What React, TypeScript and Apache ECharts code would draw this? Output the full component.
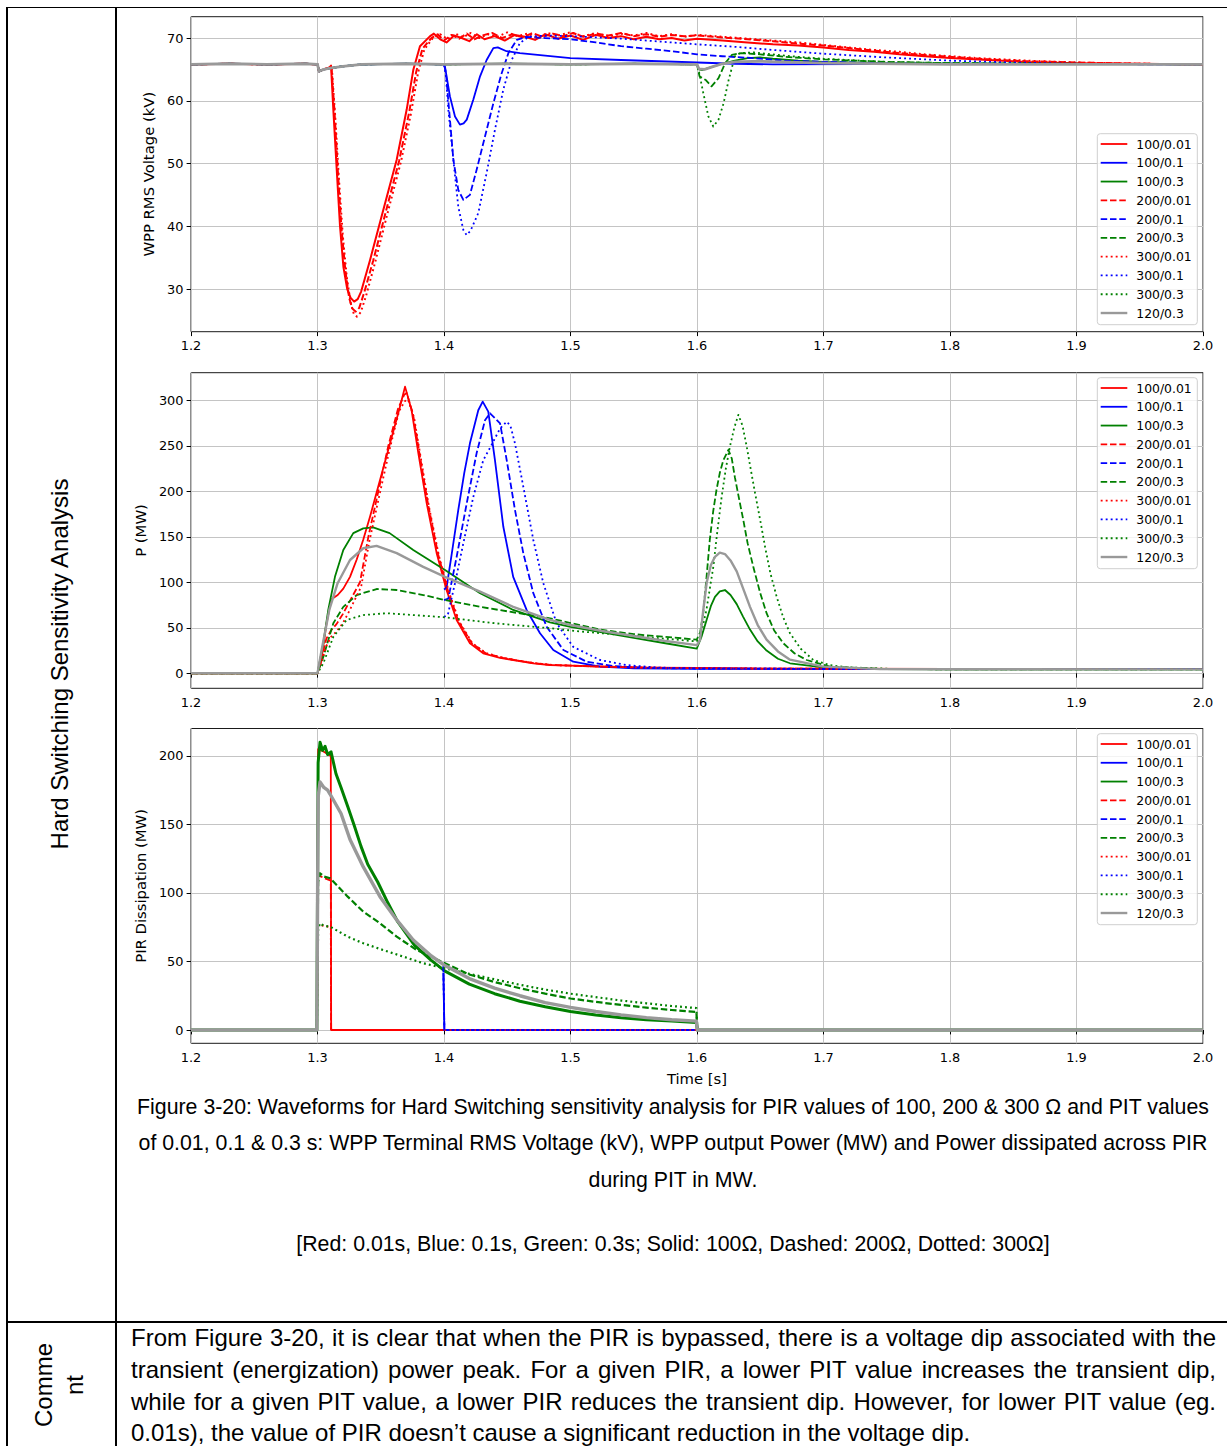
import React, { useEffect, useRef } from 'react';
import * as echarts from 'echarts';

type Pt = [number, number];

// ---------------------------------------------------------------------------
// Series names (PIR ohms / PIT seconds) in legend order
// ---------------------------------------------------------------------------
const SERIES_NAMES = ['100/0.01', '100/0.1', '100/0.3', '200/0.01', '200/0.1', '200/0.3', '300/0.01', '300/0.1', '300/0.3', '120/0.3'];

const TIME_TICKS = [1.2, 1.3, 1.4, 1.5, 1.6, 1.7, 1.8, 1.9, 2.0];
const VOLT_TICKS = [30, 40, 50, 60, 70];
const POWER_TICKS = [0, 50, 100, 150, 200, 250, 300];
const PIR_TICKS = [0, 50, 100, 150, 200];

// ---------------------------------------------------------------------------
// Panel 1: WPP terminal RMS voltage (kV)
// ---------------------------------------------------------------------------
const V_PRE: Pt[] = [[1.2, 65.8], [1.23, 65.9], [1.26, 65.8], [1.29, 65.9], [1.3, 65.8], [1.3012, 64.7], [1.305, 65.0]];
const V_SETTLE: Pt[] = [[1.31, 65.2], [1.32, 65.5], [1.335, 65.8], [1.37, 65.9], [1.4, 65.8]];
const V_HOLD_TO_16: Pt[] = [[1.45, 65.9], [1.5, 65.8], [1.55, 65.9], [1.6, 65.8]];

const V_100_001: Pt[] = [...V_PRE, [1.3095, 65.3], [1.3107, 65.6], [1.3125, 58.6], [1.3152, 49], [1.3178, 40], [1.3205, 33.5], [1.3235, 30.0], [1.3262, 28.6], [1.329, 28.0], [1.3318, 28.4], [1.3345, 29.6], [1.3415, 34.6], [1.352, 42.6], [1.3626, 50.6], [1.3705, 58.6], [1.3758, 65], [1.381, 68.7], [1.389, 70.3], [1.392, 70.7], [1.397, 69.8], [1.402, 69.3], [1.408, 70.4], [1.414, 70.0], [1.42, 69.5], [1.426, 70.6], [1.432, 69.8], [1.44, 70.3], [1.448, 69.6], [1.456, 70.5], [1.464, 70.2], [1.472, 69.7], [1.48, 70.6], [1.49, 69.9], [1.5, 70.4], [1.51, 69.7], [1.52, 70.5], [1.53, 70.0], [1.54, 70.3], [1.55, 69.8], [1.56, 70.2], [1.57, 69.8], [1.58, 70.0], [1.59, 69.6], [1.6, 69.9], [1.62, 69.6], [1.64, 69.3], [1.66, 69.0], [1.68, 68.8], [1.7, 68.5], [1.72, 68.1], [1.74, 67.8], [1.76, 67.4], [1.78, 67.1], [1.8, 66.8], [1.83, 66.5], [1.86, 66.2], [1.9, 66.0], [1.95, 65.9], [2.0, 65.8]];
const V_200_001: Pt[] = [...V_PRE, [1.3095, 65.3], [1.311, 65.6], [1.3135, 58], [1.316, 49], [1.319, 39.5], [1.322, 33], [1.325, 28.6], [1.3275, 26.9], [1.3302, 26.4], [1.333, 27.0], [1.337, 29.5], [1.344, 34.5], [1.354, 42.3], [1.3645, 50.4], [1.3725, 58.2], [1.378, 64.6], [1.383, 68.3], [1.39, 70.0], [1.395, 70.6], [1.4, 69.6], [1.406, 70.5], [1.412, 69.9], [1.418, 70.7], [1.424, 69.8], [1.43, 70.4], [1.438, 70.8], [1.446, 70.0], [1.454, 70.6], [1.462, 70.1], [1.47, 70.8], [1.478, 70.2], [1.486, 70.7], [1.494, 70.3], [1.502, 70.8], [1.51, 70.2], [1.52, 70.7], [1.53, 70.4], [1.54, 70.8], [1.55, 70.3], [1.56, 70.6], [1.57, 70.2], [1.58, 70.5], [1.59, 70.3], [1.6, 70.4], [1.62, 70.1], [1.64, 69.8], [1.66, 69.5], [1.68, 69.1], [1.7, 68.8], [1.72, 68.4], [1.74, 68.0], [1.76, 67.6], [1.78, 67.3], [1.8, 67.0], [1.83, 66.6], [1.86, 66.3], [1.9, 66.1], [1.95, 65.9], [2.0, 65.8]];
const V_300_001: Pt[] = [...V_PRE, [1.3095, 65.3], [1.3112, 65.6], [1.314, 57.5], [1.3168, 48], [1.32, 38.5], [1.3232, 31.8], [1.3262, 27.8], [1.3288, 26.0], [1.3312, 25.6], [1.3342, 26.3], [1.3385, 29], [1.3455, 34.2], [1.3555, 42.2], [1.366, 50.3], [1.374, 58.1], [1.3795, 64.5], [1.3845, 68.2], [1.3915, 70.1], [1.397, 70.6], [1.403, 69.8], [1.409, 70.7], [1.415, 70.1], [1.421, 70.8], [1.428, 70.0], [1.435, 70.6], [1.442, 70.2], [1.45, 70.9], [1.458, 70.3], [1.466, 70.7], [1.474, 70.1], [1.482, 70.8], [1.49, 70.4], [1.5, 70.9], [1.51, 70.3], [1.52, 70.8], [1.53, 70.2], [1.54, 70.7], [1.55, 70.4], [1.56, 70.8], [1.57, 70.3], [1.58, 70.6], [1.59, 70.2], [1.6, 70.5], [1.62, 70.2], [1.64, 69.9], [1.66, 69.6], [1.68, 69.3], [1.7, 68.9], [1.72, 68.5], [1.74, 68.1], [1.76, 67.8], [1.78, 67.4], [1.8, 67.1], [1.83, 66.7], [1.86, 66.4], [1.9, 66.1], [1.95, 65.9], [2.0, 65.8]];

const V_100_01: Pt[] = [...V_PRE, ...V_SETTLE, [1.4008, 65.4], [1.4047, 60.7], [1.4087, 57.5], [1.4126, 56.2], [1.4155, 56.4], [1.418, 57], [1.4232, 60.2], [1.4285, 63.9], [1.4337, 66.5], [1.439, 68.4], [1.4425, 68.5], [1.4494, 67.9], [1.46, 67.6], [1.48, 67.2], [1.5, 66.8], [1.54, 66.5], [1.57, 66.3], [1.6, 66.1], [1.63, 65.9], [1.66, 65.8], [1.8, 65.9], [2.0, 65.8]];
const V_200_01: Pt[] = [...V_PRE, ...V_SETTLE, [1.4015, 64.5], [1.4047, 57], [1.4074, 50.6], [1.4113, 45.8], [1.4153, 44.2], [1.4205, 45], [1.4258, 49], [1.4324, 54.3], [1.439, 59.6], [1.4456, 64.4], [1.4509, 67.6], [1.4575, 69.7], [1.465, 70.2], [1.48, 70.0], [1.5, 69.8], [1.52, 69.3], [1.54, 68.7], [1.56, 68.3], [1.58, 67.9], [1.6, 67.4], [1.62, 67.1], [1.645, 66.8], [1.67, 66.4], [1.7, 66.2], [1.75, 66.0], [1.8, 65.9], [2.0, 65.8]];
const V_300_01: Pt[] = [...V_PRE, ...V_SETTLE, [1.4015, 64.0], [1.4034, 58.6], [1.4074, 50.6], [1.4113, 43.1], [1.4153, 39.4], [1.4179, 38.6], [1.421, 39.3], [1.4271, 42.1], [1.4337, 48.5], [1.4403, 55.4], [1.4469, 61.8], [1.4535, 66.5], [1.46, 69.2], [1.467, 70.2], [1.48, 70.4], [1.5, 70.3], [1.52, 70.1], [1.54, 69.9], [1.56, 69.6], [1.58, 69.3], [1.6, 69.0], [1.63, 68.6], [1.66, 68.1], [1.7, 67.5], [1.75, 66.9], [1.8, 66.4], [1.85, 66.1], [1.9, 65.9], [2.0, 65.8]];

const V_100_03: Pt[] = [...V_PRE, ...V_SETTLE, ...V_HOLD_TO_16, [1.6015, 65.0], [1.604, 64.9], [1.61, 65.3], [1.62, 65.9], [1.63, 66.4], [1.64, 66.8], [1.65, 66.9], [1.66, 66.7], [1.68, 66.4], [1.7, 66.2], [1.75, 66.0], [1.8, 65.9], [2.0, 65.8]];
const V_200_03: Pt[] = [...V_PRE, ...V_SETTLE, ...V_HOLD_TO_16, [1.602, 63.9], [1.607, 63.3], [1.6115, 62.3], [1.617, 63.6], [1.6223, 66], [1.6275, 67.3], [1.635, 67.6], [1.65, 67.4], [1.67, 67.0], [1.7, 66.6], [1.75, 66.2], [1.8, 66.0], [2.0, 65.8]];
const V_300_03: Pt[] = [...V_PRE, ...V_SETTLE, ...V_HOLD_TO_16, [1.601, 65.2], [1.605, 61.2], [1.609, 57.5], [1.6129, 55.9], [1.617, 57], [1.621, 59.6], [1.625, 63.3], [1.63, 67.1], [1.634, 67.6], [1.645, 67.7], [1.66, 67.4], [1.68, 67.0], [1.7, 66.7], [1.75, 66.2], [1.8, 66.0], [2.0, 65.8]];
const V_120_03: Pt[] = [...V_PRE, ...V_SETTLE, ...V_HOLD_TO_16, [1.6015, 65.1], [1.606, 65.0], [1.612, 65.4], [1.62, 65.9], [1.63, 66.2], [1.65, 66.3], [1.7, 66.0], [1.8, 65.8], [2.0, 65.8]];

// ---------------------------------------------------------------------------
// Panel 2: WPP output active power P (MW)
// ---------------------------------------------------------------------------
const P_100_001: Pt[] = [[1.2, 0], [1.3, 0], [1.3028, 12], [1.3068, 52], [1.3107, 81], [1.316, 86], [1.3204, 93], [1.3257, 106], [1.331, 125], [1.3362, 147], [1.3415, 172], [1.347, 200], [1.3525, 228], [1.358, 256], [1.3635, 284], [1.3665, 300], [1.3692, 315], [1.3744, 289], [1.3797, 242], [1.3863, 187], [1.3942, 132], [1.402, 91.5], [1.41, 58.6], [1.4205, 33], [1.431, 22], [1.4443, 17], [1.4547, 14.6], [1.4706, 11], [1.4838, 9.1], [1.5, 8.5], [1.53, 7.2], [1.56, 6.3], [1.6, 5.8], [1.65, 5.2], [1.7, 5.0], [1.8, 4.8], [1.9, 4.7], [2.0, 4.6]];
const P_200_001: Pt[] = [[1.2, 0], [1.3, 0], [1.3035, 18], [1.307, 38], [1.3107, 47], [1.315, 54], [1.32, 65], [1.325, 78], [1.3336, 100], [1.3402, 150], [1.3481, 200], [1.356, 250], [1.3635, 290], [1.3685, 306], [1.3705, 308], [1.3755, 285], [1.3808, 240], [1.3875, 185], [1.3955, 130], [1.4033, 90], [1.4115, 57], [1.422, 33], [1.433, 22], [1.4465, 17], [1.457, 14.2], [1.473, 10.8], [1.486, 9], [1.5, 8.4], [1.53, 7.1], [1.56, 6.2], [1.6, 5.7], [1.65, 5.2], [1.7, 5.0], [1.8, 4.8], [1.9, 4.7], [2.0, 4.6]];
const P_300_001: Pt[] = [[1.2, 0], [1.3, 0], [1.3035, 14], [1.307, 30], [1.3107, 40], [1.315, 46], [1.32, 55], [1.325, 68], [1.3345, 95], [1.341, 145], [1.349, 196], [1.357, 246], [1.3645, 288], [1.369, 299], [1.3715, 301], [1.3765, 280], [1.3815, 238], [1.388, 184], [1.396, 129], [1.404, 89], [1.412, 57], [1.4225, 33], [1.4335, 22], [1.447, 17], [1.4575, 14.2], [1.4735, 10.8], [1.4865, 9], [1.5, 8.4], [1.53, 7.1], [1.56, 6.2], [1.6, 5.7], [1.65, 5.2], [1.7, 5.0], [1.8, 4.8], [1.9, 4.7], [2.0, 4.6]];

const P_100_01: Pt[] = [[1.4, 92], [1.402, 94], [1.406, 130], [1.4113, 179.5], [1.416, 220], [1.4205, 252.7], [1.4271, 289], [1.4306, 298.5], [1.435, 287.5], [1.4403, 234], [1.4469, 161], [1.4547, 106], [1.4653, 69.6], [1.4759, 44], [1.4864, 25.6], [1.5022, 12.7], [1.5233, 7.3], [1.55, 5.5], [1.6, 5.0], [1.7, 4.7], [1.8, 4.6], [2.0, 4.5]];
const P_200_01: Pt[] = [[1.4, 80.5], [1.4034, 82], [1.41, 128], [1.418, 187], [1.4258, 242], [1.4324, 278], [1.4364, 285.7], [1.4443, 274.7], [1.4496, 234], [1.4561, 179.5], [1.4627, 132], [1.4706, 88], [1.4812, 51], [1.4944, 25.6], [1.5128, 12.7], [1.5339, 8], [1.56, 5.8], [1.6, 5.2], [1.7, 4.8], [1.8, 4.6], [2.0, 4.5]];
const P_300_01: Pt[] = [[1.4, 62], [1.403, 64], [1.4087, 99], [1.4153, 143], [1.4232, 194], [1.431, 234], [1.4376, 251], [1.4443, 269], [1.4496, 276.5], [1.4525, 272], [1.4561, 252.7], [1.4627, 205], [1.4706, 146.5], [1.4785, 99], [1.489, 55], [1.5022, 29], [1.5233, 14.6], [1.5444, 9], [1.57, 6.2], [1.6, 5.4], [1.7, 4.8], [1.8, 4.6], [2.0, 4.5]];

const P_100_03: Pt[] = [[1.2, 0], [1.3, 0], [1.3046, 33], [1.3085, 69.6], [1.3138, 106], [1.3204, 135.5], [1.3283, 154], [1.3362, 159.3], [1.344, 160.4], [1.357, 154], [1.3757, 135.5], [1.4008, 113.5], [1.4285, 88], [1.4547, 69.6], [1.4838, 56], [1.5, 51], [1.525, 45], [1.55, 39], [1.575, 33], [1.5998, 27], [1.6035, 40], [1.6077, 59], [1.611, 74], [1.6142, 84], [1.618, 90], [1.6221, 91.5], [1.6265, 86], [1.6314, 76], [1.6365, 62], [1.6419, 48], [1.648, 35], [1.655, 25], [1.664, 16], [1.6735, 11], [1.6998, 6.6], [1.7447, 4.6], [1.8, 4.4], [2.0, 4.3]];
const P_200_03: Pt[] = [[1.2, 0], [1.3, 0], [1.3046, 18], [1.3125, 55], [1.3204, 73], [1.331, 86], [1.3467, 92.6], [1.3626, 91.5], [1.3836, 86], [1.4008, 80.5], [1.4285, 73], [1.4838, 60.4], [1.5233, 48], [1.55, 43], [1.575, 40], [1.5998, 37], [1.6025, 45], [1.6049, 66], [1.6075, 105], [1.6101, 146.5], [1.6128, 178], [1.6154, 201.4], [1.618, 220], [1.6208, 234], [1.6248, 245.5], [1.6275, 236], [1.63, 215], [1.6335, 190], [1.6366, 168.5], [1.64, 143], [1.6445, 117], [1.65, 88], [1.655, 66], [1.661, 47], [1.6682, 33], [1.677, 22], [1.6867, 14.6], [1.705, 7.3], [1.75, 4.6], [1.8, 4.4], [2.0, 4.3]];
const P_300_03: Pt[] = [[1.2, 0], [1.3, 0], [1.3046, 11], [1.3125, 40], [1.323, 58.6], [1.3362, 64], [1.3547, 66], [1.3757, 64], [1.4008, 61.5], [1.44, 55], [1.4838, 49.5], [1.5075, 46], [1.55, 41], [1.5998, 35], [1.603, 42], [1.6075, 70], [1.6129, 117], [1.616, 155], [1.6195, 194], [1.6228, 225], [1.626, 249], [1.6295, 270], [1.6327, 284], [1.636, 272], [1.6393, 249], [1.6425, 224], [1.6459, 198], [1.65, 168], [1.6538, 139], [1.658, 110], [1.663, 84], [1.668, 62], [1.6735, 44], [1.682, 27], [1.692, 14.6], [1.705, 9], [1.718, 6.6], [1.76, 4.6], [1.8, 4.4], [2.0, 4.3]];
const P_120_03: Pt[] = [[1.2, 0], [1.3, 0], [1.3028, 22], [1.3093, 69.6], [1.3159, 99], [1.3257, 124.5], [1.3362, 137.4], [1.3467, 140], [1.3626, 132], [1.3836, 117], [1.4008, 106], [1.4285, 89.8], [1.4547, 73], [1.4838, 58.6], [1.5, 53], [1.525, 46.5], [1.55, 41], [1.575, 35.5], [1.6, 31], [1.6024, 36.6], [1.605, 70], [1.6077, 100], [1.611, 119], [1.6142, 128], [1.618, 132.5], [1.6221, 131], [1.6265, 124], [1.6314, 112], [1.6365, 93], [1.6419, 73], [1.648, 53], [1.655, 37], [1.664, 24], [1.6735, 15], [1.6998, 7.3], [1.7447, 4.6], [1.8, 4.4], [2.0, 4.3]];

// ---------------------------------------------------------------------------
// Panel 3: power dissipated in the pre-insertion resistor (MW)
// ---------------------------------------------------------------------------
const R_100_001: Pt[] = [[1.2, 0], [1.2995, 0], [1.3005, 205], [1.305, 203], [1.3105, 200], [1.3108, 0], [2.0, 0]];
const R_200_001: Pt[] = [[1.2, 0], [1.2995, 0], [1.3005, 113], [1.305, 111], [1.3105, 109], [1.3108, 0], [2.0, 0]];
const R_300_001: Pt[] = [[1.2, 0], [1.2995, 0], [1.3005, 77], [1.305, 76], [1.3105, 75], [1.3108, 0], [2.0, 0]];

const R_100_01: Pt[] = [[1.3995, 42], [1.4003, 0], [2.0, 0]];
const R_200_01: Pt[] = [[1.3995, 47], [1.4003, 0], [2.0, 0]];
const R_300_01: Pt[] = [[1.3995, 45], [1.4003, 0], [2.0, 0]];

const R_100_03: Pt[] = [[1.2, 0], [1.2995, 0], [1.3005, 195], [1.302, 210], [1.304, 204], [1.306, 207], [1.308, 201], [1.3107, 203], [1.3146, 187], [1.3186, 177], [1.3239, 163], [1.3291, 149], [1.3344, 134], [1.3397, 121], [1.3476, 108], [1.3555, 93], [1.3634, 79], [1.3766, 62], [1.3897, 51], [1.4008, 43], [1.42, 33.5], [1.44, 26.5], [1.46, 21], [1.48, 17], [1.5, 13.5], [1.52, 11], [1.54, 9], [1.56, 7.5], [1.58, 6.5], [1.5995, 5.5], [1.6003, 0], [2.0, 0]];
const R_200_03: Pt[] = [[1.2, 0], [1.2995, 0], [1.3005, 108], [1.302, 114.4], [1.305, 112], [1.31, 110.7], [1.3239, 97.3], [1.3362, 86.3], [1.3494, 77.9], [1.3626, 68.1], [1.3784, 58.4], [1.4008, 48.7], [1.42, 40.5], [1.44, 35], [1.46, 30.5], [1.48, 26.5], [1.5, 23], [1.52, 20.5], [1.54, 18.3], [1.56, 16.3], [1.58, 14.6], [1.5995, 13.2], [1.6003, 0], [2.0, 0]];
const R_300_03: Pt[] = [[1.2, 0], [1.2995, 0], [1.3005, 74], [1.302, 77.9], [1.305, 76], [1.31, 75.4], [1.3239, 68.1], [1.3362, 63.3], [1.3518, 58.4], [1.368, 53.5], [1.3836, 48.7], [1.4008, 45], [1.42, 41], [1.44, 37], [1.46, 33], [1.48, 29.5], [1.5, 26.5], [1.52, 24], [1.54, 21.5], [1.56, 19.5], [1.58, 17.5], [1.5995, 16], [1.6003, 0], [2.0, 0]];
const R_120_03: Pt[] = [[1.2, 0], [1.2995, 0], [1.3005, 170], [1.302, 181], [1.305, 177], [1.308, 175], [1.31, 172], [1.3186, 158], [1.3257, 139], [1.3362, 119], [1.3494, 97.3], [1.3626, 80.3], [1.3757, 65.7], [1.39, 54], [1.4008, 47], [1.42, 37.5], [1.44, 30.5], [1.46, 25], [1.48, 20], [1.5, 16.5], [1.52, 13.5], [1.54, 11], [1.56, 9], [1.58, 7.5], [1.5995, 6.5], [1.6003, 0], [2.0, 0]];

const VOLTAGE = [V_100_001, V_100_01, V_100_03, V_200_001, V_200_01, V_200_03, V_300_001, V_300_01, V_300_03, V_120_03];
const POWER = [P_100_001, P_100_01, P_100_03, P_200_001, P_200_01, P_200_03, P_300_001, P_300_01, P_300_03, P_120_03];
const PIR = [R_100_001, R_100_01, R_100_03, R_200_001, R_200_01, R_200_03, R_300_001, R_300_01, R_300_03, R_120_03];

// ---------------------------------------------------------------------------
// Styles and layout
// ---------------------------------------------------------------------------
const RED = '#ff0000';
const BLUE = '#0000ff';
const GREEN = '#008000';
const GREY = '#999999';
const DASH = [6.5, 2.8];
const DOT = [1.9, 3.1];
const STYLES: { color: string; dash: number[] | null }[] = [
  { color: RED, dash: null }, { color: BLUE, dash: null }, { color: GREEN, dash: null },
  { color: RED, dash: DASH }, { color: BLUE, dash: DASH }, { color: GREEN, dash: DASH },
  { color: RED, dash: DOT }, { color: BLUE, dash: DOT }, { color: GREEN, dash: DOT },
  { color: GREY, dash: null },
];

const PLOT_FONT = '"DejaVu Sans", Verdana, sans-serif';
const DOC_FONT = '"Liberation Sans", Arial, Helvetica, sans-serif';

const PANELS = [
  { top: 16.7, height: 315, min: 23.2, max: 73.4, ticks: VOLT_TICKS, title: 'WPP RMS Voltage (kV)', gap: 31.6, legendY: 144, series: VOLTAGE, widths: [2.0, 1.8, 1.8, 2.0, 1.8, 1.8, 2.0, 1.8, 1.8, 2.8] },
  { top: 372.7, height: 315.6, min: -16.5, max: 330.3, ticks: POWER_TICKS, title: 'P (MW)', gap: 39.4, legendY: 388, series: POWER, widths: [1.8, 1.8, 1.8, 1.8, 1.8, 1.8, 1.8, 1.8, 1.8, 2.4] },
  { top: 728.5, height: 314.8, min: -9.7, max: 220, ticks: PIR_TICKS, title: 'PIR Dissipation (MW)', gap: 39.9, legendY: 744, series: PIR, widths: [1.8, 1.8, 3.0, 1.8, 1.8, 2.2, 1.8, 1.8, 2.2, 3.4] },
];

const PLOT_LEFT = 191;
const PLOT_WIDTH = 1012;
const LEGEND_X = 1097.3;
const LEGEND_STEP = 18.78;

const CAPTION_LINES = [
  'Figure 3-20: Waveforms for Hard Switching sensitivity analysis for PIR values of 100, 200 & 300 \u03A9 and PIT values',
  'of 0.01, 0.1 & 0.3 s: WPP Terminal RMS Voltage (kV), WPP output Power (MW) and Power dissipated across PIR',
  'during PIT in MW.',
  '[Red: 0.01s, Blue: 0.1s, Green: 0.3s; Solid: 100\u03A9, Dashed: 200\u03A9, Dotted: 300\u03A9]',
];
const CAPTION_TOPS = [1097.1, 1133.1, 1169.8, 1233.6];

const COMMENT_LINES = [
  'From Figure 3-20, it is clear that when the PIR is bypassed, there is a voltage dip associated with the',
  'transient (energization) power peak. For a given PIR, a lower PIT value increases the transient dip,',
  'while for a given PIT value, a lower PIR reduces the transient dip. However, for lower PIT value (eg.',
  '0.01s), the value of PIR doesn\u2019t cause a significant reduction in the voltage dip.',
];
const COMMENT_TOPS = [1325.8, 1357.8, 1389.8, 1421.3];

function buildOption(): any {
  const grid = PANELS.map((p) => ({
    left: PLOT_LEFT, top: p.top, width: PLOT_WIDTH, height: p.height,
    show: true, borderColor: '#1a1a1a', borderWidth: 1, backgroundColor: 'transparent',
  }));

  const xAxis = PANELS.map((p, i) => ({
    type: 'value', gridIndex: i, min: 1.2, max: 2.0,
    axisLine: { show: false },
    axisTick: { show: true, inside: false, length: 4.4, lineStyle: { color: '#000', width: 1 }, customValues: TIME_TICKS },
    axisLabel: { customValues: TIME_TICKS, formatter: (v: number) => v.toFixed(1), fontSize: 12.9, fontFamily: PLOT_FONT, color: '#000', margin: 7.2 },
    splitLine: { show: true, lineStyle: { color: '#c4c4c4', width: 1 } },
    name: i === PANELS.length - 1 ? 'Time [s]' : '',
    nameLocation: 'middle', nameGap: 27.3,
    nameTextStyle: { fontSize: 14.8, fontFamily: PLOT_FONT, color: '#000' },
  }));

  const yAxis = PANELS.map((p, i) => ({
    type: 'value', gridIndex: i, min: p.min, max: p.max,
    axisLine: { show: false },
    axisTick: { show: true, inside: false, length: 4.4, lineStyle: { color: '#000', width: 1 }, customValues: p.ticks },
    axisLabel: { customValues: p.ticks, fontSize: 12.9, fontFamily: PLOT_FONT, color: '#000', margin: 7.5 },
    splitLine: { show: true, lineStyle: { color: '#c4c4c4', width: 1 } },
    name: p.title, nameLocation: 'middle', nameRotate: 90, nameGap: p.gap,
    nameTextStyle: { fontSize: 14.8, fontFamily: PLOT_FONT, color: '#000' },
  }));

  const series: any[] = [];
  PANELS.forEach((p, gi) => {
    p.series.forEach((data, k) => {
      const st = STYLES[k];
      series.push({
        type: 'line', name: SERIES_NAMES[k], xAxisIndex: gi, yAxisIndex: gi, data,
        showSymbol: false, symbol: 'none', silent: true, clip: true,
        emphasis: { disabled: true },
        lineStyle: { color: st.color, width: p.widths[k], type: st.dash ? st.dash : 'solid', cap: 'butt', join: 'round' },
      });
    });
  });

  // Legend boxes drawn from the series names and styles
  const graphic: any[] = [];
  PANELS.forEach((p) => {
    graphic.push({
      type: 'rect', z: 100, silent: true,
      shape: { x: LEGEND_X, y: p.legendY - 10.3, width: 100, height: 191, r: 3 },
      style: { fill: 'rgba(255,255,255,0.8)', stroke: '#cfcfcf', lineWidth: 1 },
    });
    SERIES_NAMES.forEach((name, k) => {
      const y = p.legendY + k * LEGEND_STEP;
      const st = STYLES[k];
      graphic.push({
        type: 'line', z: 101, silent: true,
        shape: { x1: LEGEND_X + 3.4, y1: y, x2: LEGEND_X + 30, y2: y },
        style: { stroke: st.color, lineWidth: k === 9 ? 2.4 : 1.8, lineDash: st.dash || null, lineCap: 'butt' },
      });
      graphic.push({
        type: 'text', z: 101, silent: true, x: LEGEND_X + 39, y,
        style: { text: name, fontSize: 12.4, fontFamily: PLOT_FONT, fill: '#000', align: 'left', verticalAlign: 'middle' },
      });
    });
  });

  return { animation: false, grid, xAxis, yAxis, series, graphic };
}

export default function App() {
  const ref = useRef<HTMLDivElement>(null);

  useEffect(() => {
    if (!ref.current) return;
    const chart = echarts.init(ref.current, null, { renderer: 'svg' });
    chart.setOption(buildOption());
    return () => chart.dispose();
  }, []);

  const rule = (style: React.CSSProperties) => <div style={{ position: 'absolute', background: '#000', ...style }} />;
  const rotated = (text: string, cx: number, cy: number) => (
    <div style={{
      position: 'absolute', left: cx, top: cy, transform: 'translate(-50%, -50%) rotate(-90deg)',
      fontSize: 24, lineHeight: '24px', whiteSpace: 'nowrap', fontFamily: DOC_FONT, color: '#000',
    }}>{text}</div>
  );

  return (
    <div style={{ position: 'absolute', left: 0, top: 0, width: 1227, height: 1446, background: '#fff', overflow: 'hidden' }}>
      <div ref={ref} style={{ position: 'absolute', left: 0, top: 0, width: 1227, height: 1446 }} />

      {/* table rules */}
      {rule({ left: 6, top: 6.5, width: 1221, height: 1.5 })}
      {rule({ left: 6, top: 7, width: 2, height: 1439 })}
      {rule({ left: 115, top: 7, width: 2, height: 1439 })}
      {rule({ left: 6, top: 1321, width: 1221, height: 2 })}

      {rotated('Hard Switching Sensitivity Analysis', 60, 664)}
      {rotated('Comme', 43.5, 1385)}
      {rotated('nt', 75, 1385)}

      {CAPTION_LINES.map((t, i) => (
        <div key={'c' + i} style={{
          position: 'absolute', left: 116, width: 1114, top: CAPTION_TOPS[i], fontSize: 21.3, lineHeight: '21.3px',
          textAlign: 'center', whiteSpace: 'nowrap', fontFamily: DOC_FONT, color: '#000',
        }}>{t}</div>
      ))}

      {COMMENT_LINES.map((t, i) => {
        const last = i === COMMENT_LINES.length - 1;
        return (
          <div key={'m' + i} style={{
            position: 'absolute', left: 131, width: 1085, top: COMMENT_TOPS[i], fontSize: 24, lineHeight: '24px',
            textAlign: last ? 'left' : 'justify', textAlignLast: last ? 'left' : 'justify',
            fontFamily: DOC_FONT, color: '#000',
          } as React.CSSProperties}>{t}</div>
        );
      })}
    </div>
  );
}
